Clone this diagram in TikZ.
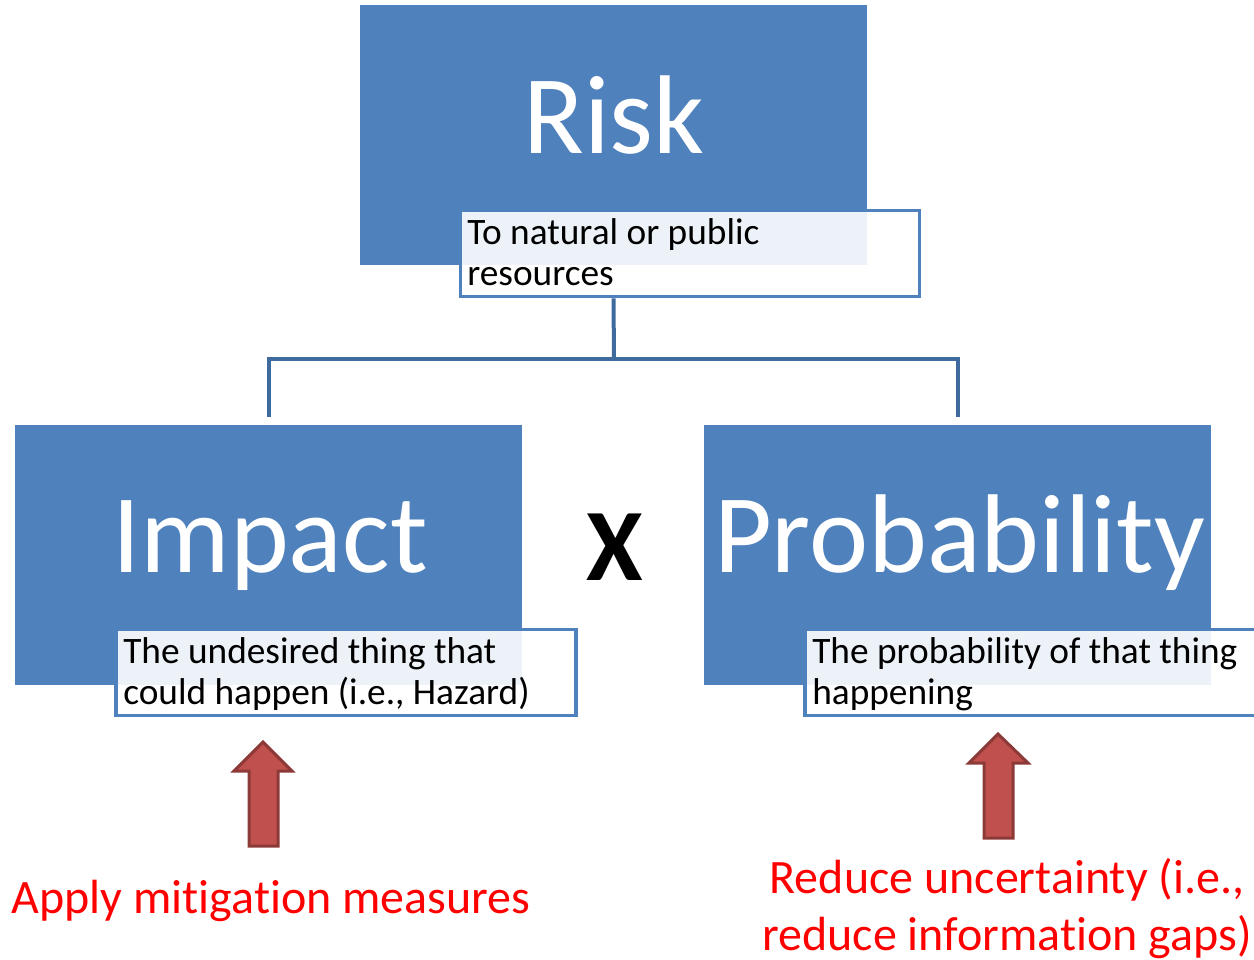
\documentclass[tikz,border=0pt]{standalone}
\usepackage{fontspec}
\setmainfont{Carlito}[Ligatures=NoCommon]
\definecolor{boxblue}{HTML}{4F81BD}
\definecolor{connblue}{HTML}{3F6A9E}
\definecolor{arrowfill}{HTML}{C0504D}
\definecolor{arrowedge}{HTML}{8C3A38}
\definecolor{redtext}{HTML}{FF0000}
\tikzset{
  bigbox/.style={fill=boxblue, draw=none, minimum width=380.25pt, minimum height=195pt, inner sep=0pt},
  labelbox/.style={draw=boxblue, line width=2.8pt, fill=white, fill opacity=0.9, inner sep=0pt, minimum height=64.5pt},
  titletext/.style={text=white, font=\fontsize{84}{90}\selectfont, inner sep=0pt, anchor=base},
  labeltext/.style={text=black, font=\fontsize{28}{30.75}\selectfont, inner sep=0pt, anchor=north west, align=left},
  conn/.style={draw=connblue, line width=3pt},
  uparrow/.style={fill=arrowfill, draw=arrowedge, line width=2.25pt, line join=miter},
  redlabel/.style={text=redtext, font=\fontsize{36}{42.75}\selectfont, inner sep=0pt, align=center}
}
\begin{document}
\begin{tikzpicture}[x=0.75pt,y=-0.75pt]
\useasboundingbox (0,0) rectangle (1254,960);
\clip (0,0) rectangle (1254,960);
% main boxes
\node[bigbox] (risk) at (613.5,135) {};
\node[bigbox] (impact) at (268.5,554.5) {};
\node[bigbox] (prob) at (957.5,554.5) {};
% titles
\node[titletext] (risktitle) at (614,153) {Risk};
\node[titletext] (impacttitle) at (270,572) {Impact};
\node[titletext] (probtitle) at (959.5,572) {Probability};
% label boxes
\node[labelbox, minimum width=344.25pt] (risklab) at (690,253.5) {};
\node[labelbox, minimum width=345pt] (impactlab) at (346,672.5) {};
\node[labelbox, minimum width=345pt] (problab) at (1035,672.5) {};
% label texts
\node[labeltext] (risklabt) at (467,218) {To natural or public\\resources};
\node[labeltext] (impactlabt) at (123,637) {The undesired thing that\\could happen (i.e., Hazard)};
\node[labeltext] (problabt) at (812,637) {The probability of that thing\\happening};
% connectors
\coordinate (junction) at (614,359);
\draw[conn] (risklab.south -| risk.south) -- (junction);
\draw[conn] ([yshift=5.25pt]impact.north) |- (junction) -| ([yshift=5.25pt]prob.north);
% times sign
\node[font=\bfseries\fontsize{77}{80}\selectfont, inner sep=0pt, anchor=base] (times) at (614.5,580) {X};
% arrows
\draw[uparrow] (263,742) -- (292,771) -- (278,771) -- (278,846) -- (249,846) -- (249,771) -- (234,771) -- cycle;
\draw[uparrow] (998,734) -- (1028,763) -- (1013,763) -- (1013,838) -- (984,838) -- (984,763) -- (969,763) -- cycle;
% red texts
\node[redlabel, anchor=base] (mitig) at (271,913) {Apply mitigation measures};
\node[redlabel, anchor=north] (reduce) at (1007,858) {Reduce uncertainty (i.e.,\\reduce information gaps)};
\end{tikzpicture}
\end{document}
